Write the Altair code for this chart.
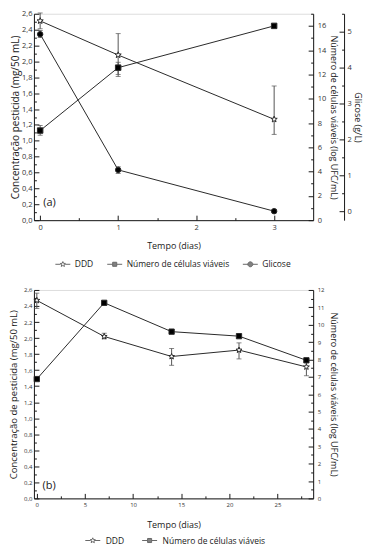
import math
import altair as alt
import pandas as pd

FONT = "Open Sans"
INK = "#1a1a1a"
LINE = "#2a2a2a"
ERR = "#555555"

# ---------------- data: panel (a) ----------------
days_a = [0, 1, 3]
ddd_a = [2.51, 2.08, 1.27]
ddd_a_lo = [2.41, 1.81, 1.08]
ddd_a_hi = [2.61, 2.35, 1.69]
cells_a = [7.38, 12.56, 16.0]
cells_a_lo = [7.0, 12.0, 15.9]
cells_a_hi = [7.8, 13.0, 16.1]
glic_a = [4.93, 1.15, 0.0]
glic_a_lo = [4.84, 1.05, -0.04]
glic_a_hi = [5.03, 1.24, 0.04]

# ---------------- data: panel (b) ----------------
days_b = [0, 7, 14, 21, 28]
ddd_b = [2.47, 2.02, 1.77, 1.85, 1.64]
ddd_b_lo = [2.37, 1.99, 1.66, 1.74, 1.53]
ddd_b_hi = [2.56, 2.06, 1.87, 1.94, 1.72]
cells_b = [6.87, 11.26, 9.60, 9.34, 7.95]
cells_b_lo = [6.80, 11.18, 9.52, 9.26, 7.87]
cells_b_hi = [6.94, 11.34, 9.68, 9.42, 8.03]

series_names = ["DDD", "Número de células viáveis", "Glicose"]
panel_tags = ["(a)", "(b)"]

# axis tick values
left_major = [round(0.2 * i, 1) for i in range(14)]
left_minor = [round(0.1 + 0.2 * i, 1) for i in range(13)]
xa_major = [0, 1, 2, 3]
xa_minor = [0.5, 1.5, 2.5]
xb_major = [0, 5, 10, 15, 20, 25]
xb_minor = [2.5, 7.5, 12.5, 17.5, 22.5, 27.5]
cells_a_major = list(range(0, 17, 2))
cells_a_minor = list(range(1, 18, 2))
glic_major = [0, 1, 2, 3, 4, 5]
glic_minor = [i + 0.5 for i in range(6)]
cells_b_major = list(range(0, 13))
cells_b_minor = [i + 0.5 for i in range(12)]

XDOM_A = [-0.08, 3.5]
XDOM_B = [-0.3, 28.7]
LEFT_DOM = [0, 2.6]
CELLS_A_DOM = [0, 17]
GLIC_DOM = [-0.25, 5.5]
CELLS_B_DOM = [0, 12]
W = 280
H_A, H_B = 207, 209
GLIC_OFF = 31
COMMA = "replace(format(datum.value, '.1f'), '.', ',')"


# ---------------- symbols ----------------
def star_pts(r_out, r_in):
    pts = []
    for k in range(10):
        ang = math.radians(-90 + 36 * k)
        r = r_out if k % 2 == 0 else r_in
        pts.append((r * math.cos(ang), r * math.sin(ang)))
    return pts


def circle_pts(r, n=20):
    return [(r * math.cos(2 * math.pi * k / n), r * math.sin(2 * math.pi * k / n)) for k in range(n)]


def square_pts(r):
    return [(-r, -r), (r, -r), (r, r), (-r, r)]


def poly(pts):
    return "M" + " L".join(f"{x:.3f},{y:.3f}" for x, y in pts) + " Z"


STAR = poly(star_pts(1, 0.42))


def legend_sym(pts, gap):
    return f"M-1,0 L{-gap:.3f},0 M{gap:.3f},0 L1,0 " + poly(pts)


LEG_PATHS = [
    legend_sym(star_pts(0.36, 0.16), 0.3),
    legend_sym(square_pts(0.27), 0.27),
    legend_sym(circle_pts(0.33), 0.3),
]
LEG_FILLS = ["white", "black", "black"]


def sc(dom):
    return alt.Scale(domain=dom, nice=False, zero=False)


def series(days, vals, lo, hi, xdom, ydom, shape, fill, size):
    df = pd.DataFrame({"day": days, "val": vals, "lo": lo, "hi": hi})
    X = alt.X("day:Q", scale=sc(xdom), axis=None)
    base = alt.Chart(df)
    line = base.mark_line(color=LINE, strokeWidth=1).encode(
        x=X, y=alt.Y("val:Q", scale=sc(ydom), axis=None))
    rule = base.mark_rule(color=ERR, strokeWidth=1).encode(
        x=X, y=alt.Y("lo:Q", scale=sc(ydom), axis=None), y2="hi:Q")
    cap_lo = base.mark_tick(color=ERR, thickness=1, size=5, orient="horizontal").encode(
        x=X, y=alt.Y("lo:Q", scale=sc(ydom), axis=None))
    cap_hi = base.mark_tick(color=ERR, thickness=1, size=5, orient="horizontal").encode(
        x=X, y=alt.Y("hi:Q", scale=sc(ydom), axis=None))
    pts = base.mark_point(shape=shape, filled=True, fill=fill, stroke=LINE,
                          strokeWidth=1, size=size, opacity=1).encode(
        x=X, y=alt.Y("val:Q", scale=sc(ydom), axis=None))
    return line, [rule, cap_lo, cap_hi], pts


def main_axis(orient, values, title, label_size, title_size, offset=0, expr=None,
              label_pad=3, title_pad=4):
    kw = dict(orient=orient, values=values, ticks=False, domain=True, domainColor=INK,
              domainWidth=1, labelFont=FONT, labelFontSize=label_size, labelColor="#333333",
              labelPadding=label_pad, title=title, titleFont=FONT, titleFontSize=title_size,
              titleFontWeight="normal", titleColor=INK, titlePadding=title_pad, grid=False,
              labelFlush=False, offset=offset, labelOverlap=False)
    if expr:
        kw["labelExpr"] = expr
    return alt.Axis(**kw)


def tick_axis(orient, values, size, offset):
    return alt.Axis(orient=orient, values=values, labels=False, domain=False, ticks=True,
                    tickSize=size, tickColor=INK, tickWidth=1, offset=offset, title=None,
                    grid=False)


def axis_layer(days, xdom, ydom, xaxis, yaxis):
    df = pd.DataFrame({"day": days})
    return alt.Chart(df).mark_point(opacity=0).encode(
        x=alt.X("day:Q", scale=sc(xdom), axis=xaxis),
        y=alt.Y("yv:Q", scale=sc(ydom), axis=yaxis),
    ).transform_calculate(yv=str(ydom[0]))


def legend_layer(names, paths, fills, lx, ly, label_size, col_pad, label_off):
    df = pd.DataFrame({"series": names})
    leg = alt.Legend(title=None, orient="none", legendX=lx, legendY=ly,
                     direction="horizontal", columns=len(names), labelFont=FONT,
                     labelFontSize=label_size, labelColor=INK, symbolSize=225,
                     symbolStrokeWidth=1, columnPadding=col_pad,
                     labelOffset=label_off, padding=0)
    return alt.Chart(df).transform_filter("false").mark_point(
        filled=True, size=225, strokeWidth=1).encode(
        shape=alt.Shape("series:N", scale=alt.Scale(domain=names, range=paths), legend=leg),
        fill=alt.Fill("series:N", scale=alt.Scale(domain=names, range=fills), legend=leg),
        stroke=alt.Stroke("series:N", scale=alt.Scale(domain=names, range=[LINE] * len(names)),
                          legend=leg),
    )


def tag_layer(tag, xv, yv, xdom, ydom):
    df = pd.DataFrame({"tag": [tag], "x": [xv], "y": [yv]})
    return alt.Chart(df).mark_text(font=FONT, fontSize=11, color=INK, align="left",
                                   baseline="middle").encode(
        x=alt.X("x:Q", scale=sc(xdom), axis=None),
        y=alt.Y("y:Q", scale=sc(ydom), axis=None),
        text="tag:N")


# ---------------- panel (a) ----------------
sa = [
    series(days_a, ddd_a, ddd_a_lo, ddd_a_hi, XDOM_A, LEFT_DOM, STAR, "white", 42),
    series(days_a, cells_a, cells_a_lo, cells_a_hi, XDOM_A, CELLS_A_DOM, "square", "black", 30),
    series(days_a, glic_a, glic_a_lo, glic_a_hi, XDOM_A, GLIC_DOM, "circle", "black", 30),
]
axes_a = [
    axis_layer(days_a, XDOM_A, LEFT_DOM,
               main_axis("bottom", xa_major, "Tempo (dias)", 7.5, 9, title_pad=11),
               main_axis("left", left_major, "Concentração pesticida (mg/50 mL)", 7.5, 10,
                         expr=COMMA, label_pad=2, title_pad=1)),
    axis_layer(days_a, XDOM_A, LEFT_DOM, tick_axis("bottom", xa_major, 5, -5),
               tick_axis("left", left_major, 5, -5)),
    axis_layer(days_a, XDOM_A, LEFT_DOM, tick_axis("bottom", xa_minor, 2.5, -2.5),
               tick_axis("left", left_minor, 2.5, -2.5)),
    axis_layer(days_a, XDOM_A, CELLS_A_DOM, None,
               main_axis("right", cells_a_major, "Número de células viáveis (log UFC/mL)", 7.5, 9,
                         label_pad=4, title_pad=3)),
    axis_layer(days_a, XDOM_A, CELLS_A_DOM, None, tick_axis("right", cells_a_major, 5, -5)),
    axis_layer(days_a, XDOM_A, CELLS_A_DOM, None, tick_axis("right", cells_a_minor, 2.5, -2.5)),
    axis_layer(days_a, XDOM_A, GLIC_DOM, None,
               main_axis("right", glic_major, "Glicose (g/L)", 7.5, 9, offset=GLIC_OFF,
                         label_pad=3, title_pad=1)),
    axis_layer(days_a, XDOM_A, GLIC_DOM, None, tick_axis("right", glic_major, 5, GLIC_OFF - 5)),
    axis_layer(days_a, XDOM_A, GLIC_DOM, None,
               tick_axis("right", glic_minor, 2.5, GLIC_OFF - 2.5)),
]
panel_a = alt.layer(
    *axes_a,
    *[s[0] for s in sa],
    *[e for s in sa for e in s[1]],
    *[s[2] for s in sa],
    tag_layer(panel_tags[0], 0.04, 0.21, XDOM_A, LEFT_DOM),
    legend_layer(series_names, LEG_PATHS, LEG_FILLS, 21, 243, 8.5, 11, 4),
).resolve_scale(x="independent", y="independent").properties(width=W, height=H_A)

# ---------------- panel (b) ----------------
sb = [
    series(days_b, ddd_b, ddd_b_lo, ddd_b_hi, XDOM_B, LEFT_DOM, STAR, "white", 38),
    series(days_b, cells_b, cells_b_lo, cells_b_hi, XDOM_B, CELLS_B_DOM, "square", "black", 28),
]
axes_b = [
    axis_layer(days_b, XDOM_B, LEFT_DOM,
               main_axis("bottom", xb_major, "Tempo (dias)", 6, 9, title_pad=13),
               main_axis("left", left_major, "Concentração de pesticida (mg/50 mL)", 6, 9.5,
                         expr=COMMA, label_pad=2, title_pad=5)),
    axis_layer(days_b, XDOM_B, LEFT_DOM, tick_axis("bottom", xb_major, 5, -5),
               tick_axis("left", left_major, 5, -5)),
    axis_layer(days_b, XDOM_B, LEFT_DOM, tick_axis("bottom", xb_minor, 2.5, -2.5),
               tick_axis("left", left_minor, 2.5, -2.5)),
    axis_layer(days_b, XDOM_B, CELLS_B_DOM, None,
               main_axis("right", cells_b_major, "Número de células viáveis (log UFC/mL)", 6, 9,
                         label_pad=4, title_pad=5)),
    axis_layer(days_b, XDOM_B, CELLS_B_DOM, None, tick_axis("right", cells_b_major, 5, -5)),
    axis_layer(days_b, XDOM_B, CELLS_B_DOM, None, tick_axis("right", cells_b_minor, 2.5, -2.5)),
]
panel_b = alt.layer(
    *axes_b,
    *[s[0] for s in sb],
    *[e for s in sb for e in s[1]],
    *[s[2] for s in sb],
    tag_layer(panel_tags[1], 0.6, 0.16, XDOM_B, LEFT_DOM),
    legend_layer(series_names[:2], LEG_PATHS[:2], LEG_FILLS[:2], 51, 243, 8.5, 15, 5),
).resolve_scale(x="independent", y="independent").properties(width=W, height=H_B)

chart = alt.vconcat(panel_a, panel_b, spacing=16).resolve_scale(
    shape="independent", fill="independent", stroke="independent"
).resolve_legend(
    shape="independent", fill="independent", stroke="independent"
).properties(
    padding={"left": 0, "top": 0, "right": 3, "bottom": 0}
).configure_view(stroke=None).configure(font=FONT)

chart.save("out.html", embed_options={"renderer": "svg", "actions": False})
